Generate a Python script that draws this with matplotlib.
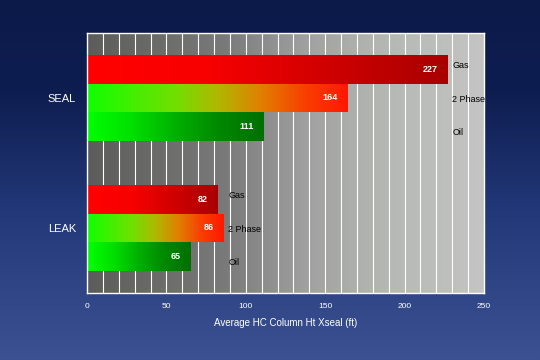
import numpy as np
import matplotlib
matplotlib.use("Agg")
import matplotlib.pyplot as plt
from matplotlib.colors import LinearSegmentedColormap
from matplotlib.patches import Rectangle

plt.rcParams['font.family'] = ['Liberation Sans', 'DejaVu Sans']

groups = ["SEAL", "LEAK"]
series = ["Gas", "2 Phase", "Oil"]
seal_values = [227, 164, 111]
leak_values = [82, 86, 65]
values = [seal_values, leak_values]
x_ticks = [0, 50, 100, 150, 200, 250]
x_label = "Average HC Column Ht Xseal (ft)"

series_cmaps = {
    "Gas": LinearSegmentedColormap.from_list("gas", ["#ff0000", "#f80000", "#d00000", "#a80000"]),
    "2 Phase": LinearSegmentedColormap.from_list("ph", ["#10ff00", "#40f000", "#70e000", "#b0b800", "#e08000", "#f84000", "#ff1800"]),
    "Oil": LinearSegmentedColormap.from_list("oil", ["#00ff00", "#00e000", "#00b000", "#008800", "#007000"]),
}

W, H = 540, 360
fig = plt.figure(figsize=(W / 100, H / 100), dpi=100)

# figure background gradient
bg = fig.add_axes([0, 0, 1, 1])
bg.set_axis_off()
grad = np.linspace(0, 1, 256).reshape(-1, 1)
bg_cmap = LinearSegmentedColormap.from_list("bg", [(0, "#0c1a4a"), (0.25, "#0e1d50"), (0.6, "#23397a"), (1.0, "#3b5192")])
bg.imshow(grad, aspect="auto", cmap=bg_cmap, extent=[0, 1, 0, 1], origin="upper")
bg.set_xlim(0, 1)
bg.set_ylim(0, 1)

ax = fig.add_axes([87 / W, 1 - 293 / H, 397 / W, 260 / H])
ax.set_xlim(0, 250)
ax.set_ylim(1.5, -0.5)

# plot area gradient
plot_cmap = LinearSegmentedColormap.from_list("pa", [(0, "#5c5c5a"), (0.35, "#7a7a7a"), (0.55, "#a0a0a0"), (0.75, "#b4b8b2"), (1.0, "#c4c4c4")])
ax.imshow(np.linspace(0, 1, 256).reshape(1, -1), aspect="auto", cmap=plot_cmap,
          extent=[0, 250, 1.5, -0.5], zorder=0)
for gx in range(10, 250, 10):
    ax.axvline(gx, color="white", lw=0.8, zorder=1)

h = 0.223
offsets = [-h, 0, h]
label_shift = [-0.03, 0.01, 0.04]
for gi, (gname, vals) in enumerate(zip(groups, values)):
    gmax = max(vals)
    for si, (sname, v) in enumerate(zip(series, vals)):
        yc = gi + offsets[si]
        y0, y1 = yc - h / 2, yc + h / 2
        im = ax.imshow(np.linspace(0, 1, 256).reshape(1, -1), aspect="auto",
                       cmap=series_cmaps[sname], extent=[0, v, y1, y0], zorder=2)
        rect = Rectangle((0, y0), v, h, transform=ax.transData, fc="none", ec="none")
        ax.add_patch(rect)
        im.set_clip_path(rect)
        ax.text(v - 6, yc, str(v), color="white", ha="right", va="center",
                fontsize=6.5, fontweight="bold", zorder=3)
        ax.text(gmax + 3, yc + label_shift[si], sname, color="black", ha="left", va="center",
                fontsize=6.5, zorder=3)

ax.set_xlim(0, 250)
ax.set_ylim(1.5, -0.5)
ax.set_yticks([0, 1])
ax.set_yticklabels(groups, color="white", fontsize=8)
ax.set_xticks(x_ticks)
ax.set_xticklabels([str(t) for t in x_ticks], color="white", fontsize=6)
ax.tick_params(length=0, pad=7)
ax.tick_params(axis="y", pad=8)
ax.set_xlabel(x_label, color="white", fontsize=7, labelpad=6)
for s in ax.spines.values():
    s.set_color("white")
    s.set_linewidth(1)

fig.savefig("out.png", dpi=100)
